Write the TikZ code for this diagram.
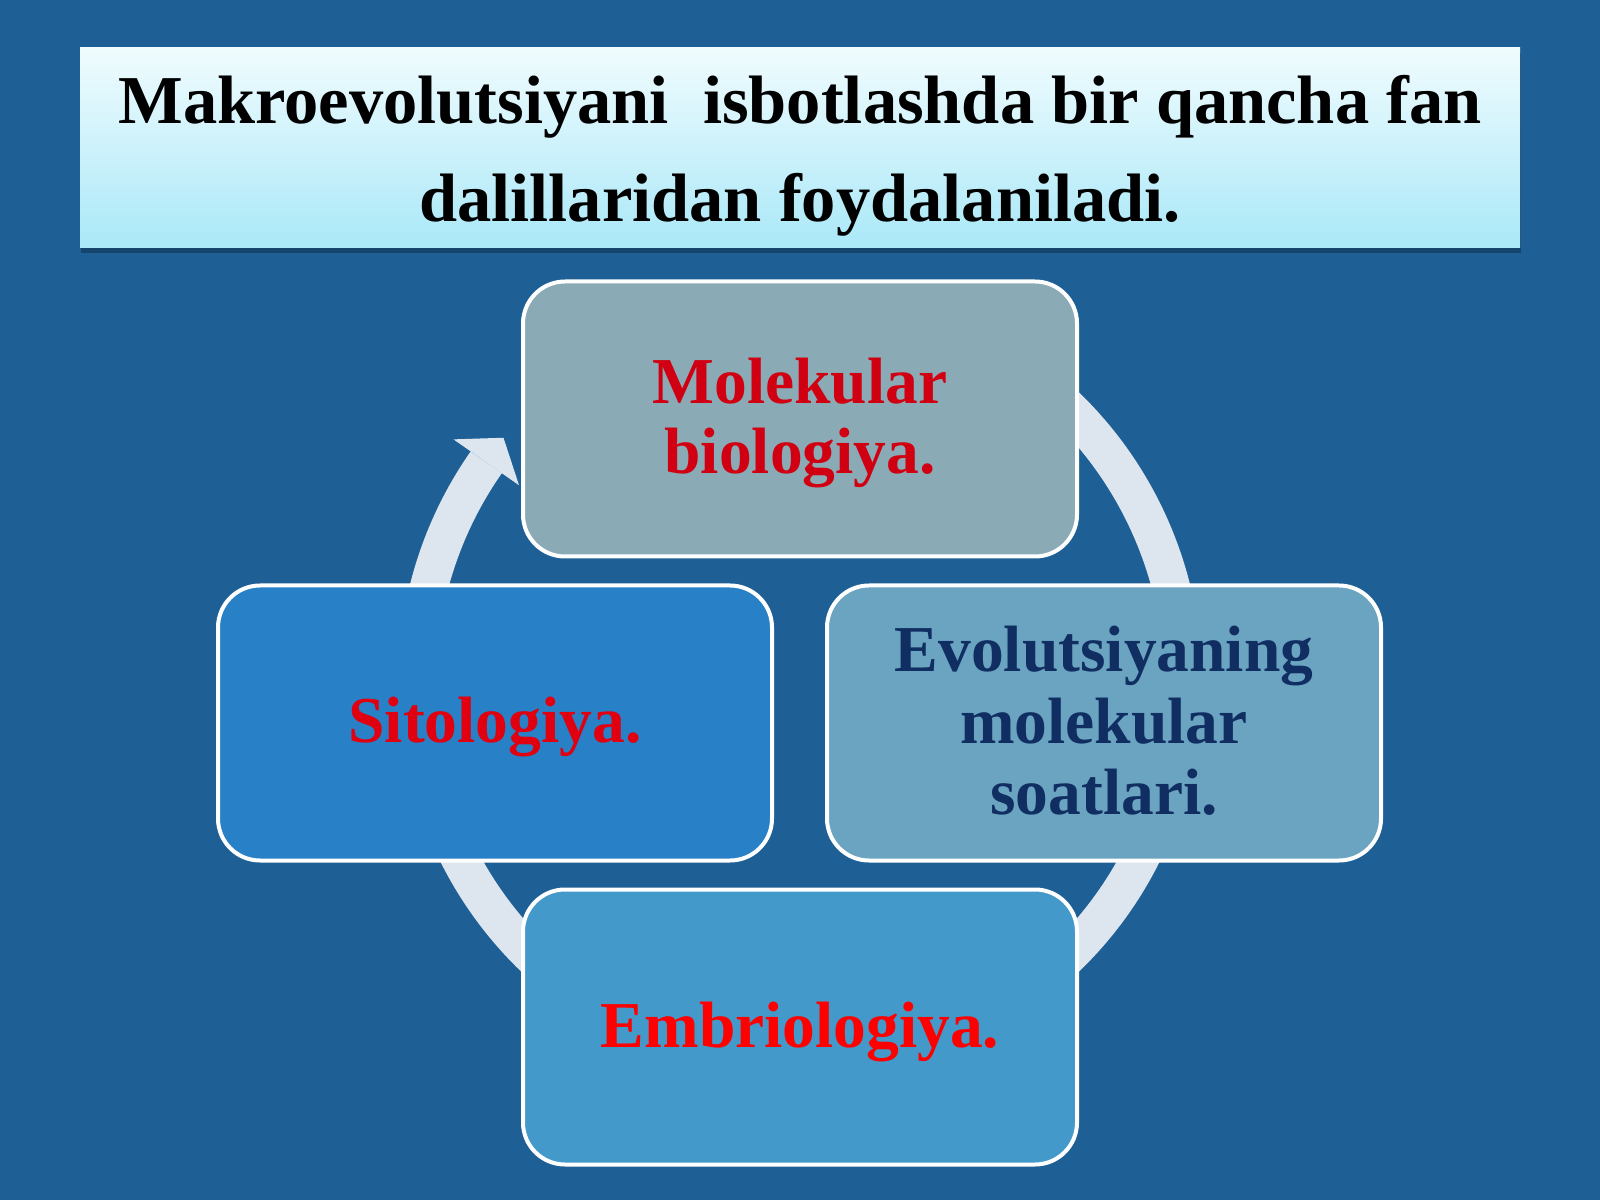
\documentclass[tikz,border=0pt]{standalone}
\usepackage{fontspec}
\setmainfont{Liberation Serif}
\usetikzlibrary{calc,shadows}
\definecolor{bgblue}{RGB}{30,96,150}
\definecolor{ringcol}{RGB}{221,230,239}
\definecolor{topfill}{RGB}{138,171,181}
\definecolor{leftfill}{RGB}{40,128,198}
\definecolor{rightfill}{RGB}{106,164,192}
\definecolor{botfill}{RGB}{67,153,201}
\definecolor{darkred}{RGB}{208,0,18}
\definecolor{midred}{RGB}{224,0,16}
\definecolor{brightred}{RGB}{255,0,0}
\definecolor{navytext}{RGB}{16,46,98}
\definecolor{titletop}{RGB}{240,252,254}
\definecolor{titlebot}{RGB}{170,232,248}
\begin{document}
\begin{tikzpicture}[x=1pt,y=1pt,
  cyclebox/.style={draw=white, line width=4pt, rounded corners=42pt,
    minimum width=554pt, minimum height=275pt, inner sep=0pt, align=center,
    font=\fontsize{65.5}{70}\selectfont\bfseries},
  titlebox/.style={minimum width=1440pt, minimum height=200pt, inner sep=0pt,
    align=center, top color=titletop, bottom color=titlebot,
    drop shadow={shadow xshift=1pt, shadow yshift=-5pt, opacity=0.28, fill=black},
    font=\fontsize{68.5}{98}\selectfont\bfseries},
  ringline/.style={draw=ringcol, line width=38pt},
  ringhead/.style={fill=ringcol, draw=none}]
\useasboundingbox (0,0) rectangle (1600,1200);
\fill[bgblue] (0,0) rectangle (1600,1200);
\coordinate (C) at (800,518);
% circular arrow
\draw[ringline] ($(C)+(70:383pt)$) arc[start angle=70, end angle=-215, radius=383pt];
\coordinate (hb) at ($(C)+(145:383pt)$);
\coordinate (ho) at ($(C)+(145:423pt)$);
\coordinate (hi) at ($(C)+(145:343pt)$);
\coordinate (ht) at ($(hb)+(55:30pt)$);
\fill[ringhead] (ho) -- (ht) -- (hi) -- cycle;
% title
\node[titlebox] (title) at (800,1052)
  {\rule{0pt}{70pt}Makroevolutsiyani\ \ isbotlashda bir qancha fan\\dalillaridan foydalaniladi.\rule[-20pt]{0pt}{0pt}};
% boxes
\node[cyclebox, fill=topfill, text=darkred] (mol) at (800,781)
  {\rule{0pt}{56pt}Molekular\\biologiya.\rule[-16pt]{0pt}{0pt}};
\node[cyclebox, fill=rightfill, text=navytext, font=\fontsize{65.5}{71.5}\selectfont\bfseries] (evo) at (1104,477)
  {\rule{0pt}{57pt}Evolutsiyaning\\molekular\\soatlari.\rule[-16pt]{0pt}{0pt}};
\node[cyclebox, fill=leftfill, text=midred, text height=56pt, text depth=16pt] (sit) at (495,477) {Sitologiya.};
\node[cyclebox, fill=botfill, text=brightred, text height=56pt, text depth=16pt] (emb) at (800,173) {Embriologiya.};
\end{tikzpicture}
\end{document}
